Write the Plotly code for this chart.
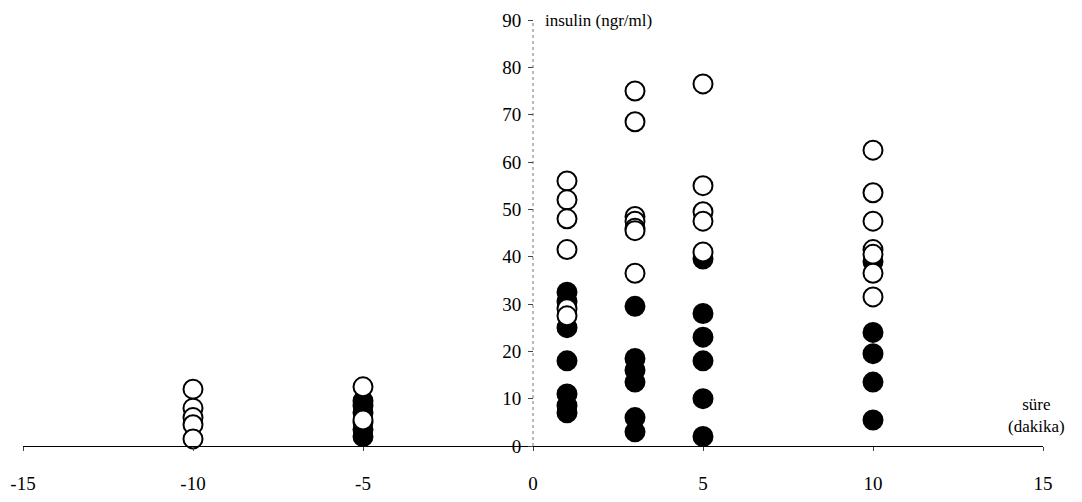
import plotly.graph_objects as go

# time points (minutes)
times = [-10, -5, 1, 3, 5, 10]

# insulin values (ngr/ml), open circles per time point
open_vals = {
    -10: [12, 8, 6, 4.5, 1.5],
    -5: [12.5, 5.5],
    1: [56, 52, 48, 41.5, 29, 27.5],
    3: [75, 68.5, 48.5, 47.5, 46, 45.5, 36.5],
    5: [76.5, 55, 49.5, 47.5, 41],
    10: [62.5, 53.5, 47.5, 41.5, 40.5, 36.5, 31.5],
}

# insulin values (ngr/ml), filled circles per time point
filled_vals = {
    -10: [],
    -5: [9.5, 8.5, 7, 5, 3.5, 2],
    1: [32.5, 30.5, 25, 18, 11, 8.5, 7],
    3: [29.5, 18.5, 16, 13.5, 6, 3],
    5: [39.5, 28, 23, 18, 10, 2],
    10: [39, 24, 19.5, 13.5, 5.5],
}

x_ticks = [-15, -10, -5, 0, 5, 10, 15]
y_ticks = [0, 10, 20, 30, 40, 50, 60, 70, 80, 90]

fx, fy, ox, oy = [], [], [], []
for t in times:
    for v in filled_vals[t]:
        fx.append(t); fy.append(v)
    for v in open_vals[t]:
        ox.append(t); oy.append(v)

FONT = "Liberation Serif"

fig = go.Figure()
fig.add_trace(go.Scatter(
    x=fx, y=fy, mode="markers", cliponaxis=False, showlegend=False,
    marker=dict(size=19, color="black", line=dict(color="black", width=2)),
))
fig.add_trace(go.Scatter(
    x=ox, y=oy, mode="markers", cliponaxis=False, showlegend=False,
    marker=dict(size=19, color="white", line=dict(color="black", width=2)),
))

# dotted y axis line at x = 0
fig.add_shape(type="line", xref="x", yref="y", x0=0, x1=0, y0=0, y1=90,
              line=dict(color="#777", width=1, dash="dot"), layer="below")

fig.add_annotation(x=0, y=90, xref="x", yref="y", text="insulin (ngr/ml)",
                   showarrow=False, xanchor="left", yanchor="middle", xshift=10,
                   font=dict(family=FONT, size=17, color="black"))
fig.add_annotation(x=15, y=0, xref="x", yref="y", text="süre<br>(dakika)",
                   showarrow=False, xanchor="right", yanchor="bottom", yshift=8, xshift=24,
                   align="center", font=dict(family=FONT, size=17, color="black"))

fig.update_layout(
    width=1082, height=502,
    margin=dict(l=15, r=47, t=12, b=64),
    paper_bgcolor="white", plot_bgcolor="white",
    font=dict(family=FONT, size=19, color="black"),
    xaxis=dict(range=[-15, 15], tickvals=x_ticks, ticktext=[str(v) for v in x_ticks],
               showgrid=False, zeroline=False, showline=True, linecolor="black", linewidth=1,
               ticks="outside", ticklen=4, tickcolor="#444", ticklabelstandoff=16,
               anchor="y", automargin=False),
    yaxis=dict(range=[0, 90], tickvals=y_ticks, showgrid=False, zeroline=False,
               showline=False, ticks="outside", ticklen=5, tickcolor="#444",
               anchor="free", position=0.5, ticklabelstandoff=3, automargin=False),
)

fig.write_html("out.html")
